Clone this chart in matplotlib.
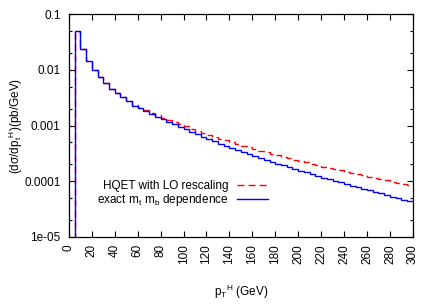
"""Higgs pT spectrum: HQET with LO rescaling vs exact mt, mb dependence."""

import matplotlib

matplotlib.use("Agg")
import matplotlib.pyplot as plt
import numpy as np
from matplotlib.ticker import FixedLocator, FuncFormatter, LogLocator, NullFormatter

plt.rcParams["font.family"] = ["Liberation Sans", "DejaVu Sans"]
plt.rcParams["mathtext.fontset"] = "custom"
plt.rcParams["mathtext.rm"] = "Liberation Sans"
plt.rcParams["mathtext.it"] = "Liberation Sans"

# %% Data (5 GeV bins, 0..300 GeV)
bin_edges = np.arange(0, 305, 5)

exact_mtmb = [
    1e-7, 0.050, 0.0233, 0.0144, 0.0100, 0.0075, 0.0058, 0.0046, 0.0038, 0.0032,
    0.0027, 0.00228, 2.04e-3, 1.82e-3, 1.62e-3, 1.45e-3, 1.29e-3, 1.16e-3, 1.05e-3, 9.44e-4,
    8.51e-4, 7.67e-4, 6.95e-4, 6.31e-4, 5.73e-4, 5.21e-4, 4.75e-4, 4.35e-4, 3.98e-4, 3.65e-4,
    3.35e-4, 3.08e-4, 2.83e-4, 2.61e-4, 2.42e-4, 2.23e-4, 2.07e-4, 1.92e-4, 1.78e-4, 1.66e-4,
    1.54e-4, 1.44e-4, 1.34e-4, 1.25e-4, 1.16e-4, 1.09e-4, 1.02e-4, 9.53e-5, 8.91e-5, 8.36e-5,
    7.83e-5, 7.34e-5, 6.89e-5, 6.46e-5, 6.05e-5, 5.68e-5, 5.32e-5, 4.99e-5, 4.68e-5, 4.39e-5,
]

hqet_lo = [
    1e-7, 0.050, 0.0233, 0.0144, 0.0100, 0.0075, 0.0058, 0.0046, 0.0038, 0.0032,
    0.0027, 0.00229, 2.08e-3, 1.88e-3, 1.69e-3, 1.53e-3, 1.37e-3, 1.25e-3, 1.15e-3, 1.05e-3,
    9.60e-4, 8.80e-4, 8.06e-4, 7.41e-4, 6.83e-4, 6.30e-4, 5.84e-4, 5.41e-4, 5.01e-4, 4.69e-4,
    4.34e-4, 4.05e-4, 3.77e-4, 3.52e-4, 3.31e-4, 3.09e-4, 2.91e-4, 2.74e-4, 2.57e-4, 2.43e-4,
    2.28e-4, 2.17e-4, 2.05e-4, 1.94e-4, 1.82e-4, 1.74e-4, 1.65e-4, 1.56e-4, 1.48e-4, 1.41e-4,
    1.34e-4, 1.27e-4, 1.21e-4, 1.15e-4, 1.09e-4, 1.04e-4, 9.88e-5, 9.38e-5, 8.92e-5, 8.47e-5,
]

x_ticks = np.arange(0, 301, 20)
y_ticks = [1e-5, 1e-4, 1e-3, 1e-2, 1e-1]
y_tick_labels = {1e-5: "1e-05", 1e-4: "0.0001", 1e-3: "0.001", 1e-2: "0.01", 1e-1: "0.1"}

# %% Plot
fs = 8.5
fig = plt.figure(figsize=(4.36, 3.05), dpi=100)
ax = fig.add_axes([0.158, 0.223, 0.789, 0.731])

ax.stairs(hqet_lo, bin_edges, baseline=None, color="#ff0000", linestyle=(0, (5, 3)),
          linewidth=1.0, label="HQET with LO rescaling")
ax.stairs(exact_mtmb, bin_edges, baseline=None, color="#0000ff", linewidth=1.0,
          label=r"exact m$_\mathrm{t}$ m$_\mathrm{b}$ dependence")

ax.set_yscale("log")
ax.set_xlim(0, 300)
ax.set_ylim(1e-5, 0.1)

ax.xaxis.set_major_locator(FixedLocator(x_ticks))
ax.yaxis.set_major_locator(FixedLocator(y_ticks))
ax.yaxis.set_major_formatter(FuncFormatter(lambda v, _: y_tick_labels.get(v, "")))
ax.yaxis.set_minor_locator(LogLocator(base=10, subs=[2.0, 5.0]))
ax.yaxis.set_minor_formatter(NullFormatter())

ax.tick_params(which="both", direction="in", top=True, right=True, labelsize=fs)
ax.tick_params(which="major", length=4, width=0.8)
ax.tick_params(which="minor", length=2.5, width=0.8)
ax.tick_params(axis="x", labelrotation=90, pad=5)
ax.tick_params(axis="y", pad=6)

for spine in ax.spines.values():
    spine.set_linewidth(0.9)

ax.set_xlabel(r"p$_\mathrm{T}$$^\mathrm{H}$ (GeV)", fontsize=fs)
ax.xaxis.set_label_coords(0.5, -0.205)
ax.set_ylabel(r"(d$\sigma$/dp$_\mathrm{t}$$^\mathrm{H}$)(pb/GeV)", fontsize=fs)
ax.yaxis.set_label_coords(-0.128, 0.5)

ax.legend(loc="upper right", bbox_to_anchor=(0.58, 0.255), frameon=False,
          markerfirst=False, fontsize=fs, handlelength=2.7, handletextpad=0.7,
          labelspacing=0.0, borderpad=0, borderaxespad=0)

fig.savefig("out.png", dpi=100)
